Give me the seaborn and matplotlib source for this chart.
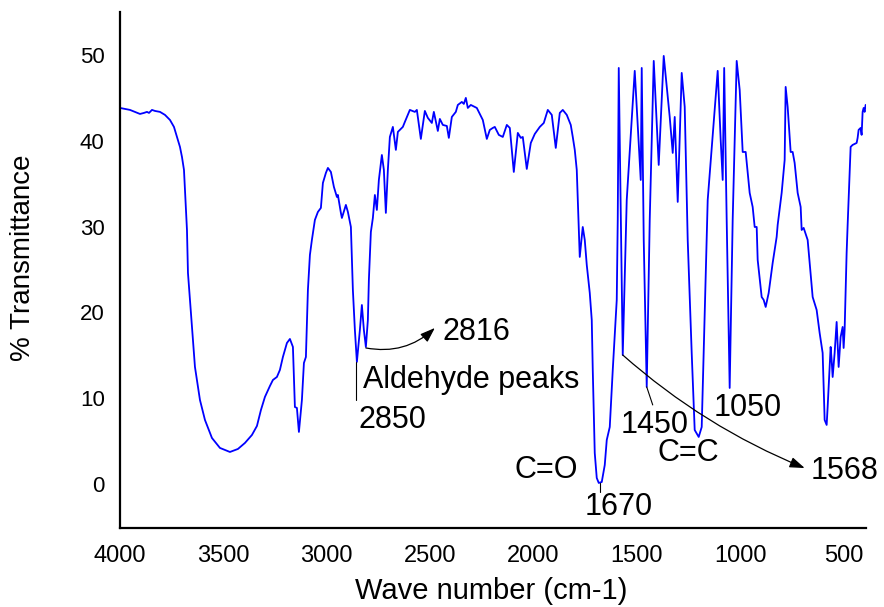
import matplotlib
matplotlib.use("Agg")
import matplotlib.pyplot as plt
import seaborn as sns
import pandas as pd

# ---- data ----
wavenumber = [
    4000.0, 3975.8, 3951.7, 3927.5, 3903.3, 3884.0, 3869.5, 3859.8, 3845.3, 3830.8,
    3806.6, 3782.5, 3758.3, 3739.0, 3724.5, 3710.0, 3700.3, 3690.6, 3685.8, 3676.1,
    3671.3, 3661.6, 3651.9, 3637.5, 3613.3, 3589.1, 3555.3, 3516.6, 3468.3, 3429.6,
    3395.8, 3361.9, 3337.7, 3318.4, 3299.1, 3274.9, 3260.4, 3241.1, 3226.6, 3212.1,
    3192.7, 3178.2, 3163.7, 3154.1, 3144.4, 3134.7, 3120.2, 3110.5, 3100.9, 3091.2,
    3081.5, 3071.9, 3057.4, 3042.9, 3028.4, 3018.7, 3004.2, 2994.5, 2980.0, 2965.5,
    2951.0, 2946.2, 2931.7, 2926.8, 2907.5, 2897.8, 2883.3, 2873.7, 2864.0, 2854.3,
    2839.8, 2830.2, 2820.5, 2810.8, 2801.2, 2796.3, 2786.7, 2777.0, 2767.3, 2757.7,
    2748.0, 2733.5, 2723.8, 2714.2, 2704.5, 2694.8, 2680.3, 2665.8, 2656.1, 2632.0,
    2622.3, 2598.1, 2574.0, 2564.3, 2545.0, 2525.6, 2511.1, 2491.8, 2482.1, 2462.8,
    2453.1, 2438.6, 2419.3, 2409.6, 2395.1, 2375.8, 2366.1, 2346.8, 2337.1, 2327.4,
    2317.8, 2303.3, 2274.3, 2245.3, 2225.9, 2211.4, 2196.9, 2187.3, 2167.9, 2148.6,
    2129.2, 2114.7, 2095.4, 2076.0, 2061.6, 2051.9, 2032.6, 2013.2, 1993.9, 1969.7,
    1950.4, 1931.0, 1911.7, 1892.4, 1873.0, 1858.5, 1839.2, 1819.9, 1810.2, 1800.5,
    1790.9, 1776.4, 1761.9, 1752.2, 1742.5, 1728.0, 1718.4, 1713.5, 1703.9, 1694.2,
    1684.5, 1670.0, 1655.5, 1645.8, 1631.3, 1616.8, 1597.5, 1592.7, 1587.8, 1568.5,
    1549.2, 1510.5, 1481.5, 1476.7, 1467.0, 1452.5, 1438.0, 1418.6, 1394.5, 1370.3,
    1341.3, 1326.8, 1317.1, 1302.6, 1283.3, 1268.8, 1254.3, 1235.0, 1220.5, 1201.1,
    1186.6, 1177.0, 1157.6, 1109.3, 1094.8, 1085.1, 1077.9, 1065.8, 1051.3, 1036.8,
    1017.4, 1002.9, 988.4, 973.9, 964.2, 954.6, 940.1, 930.4, 920.7, 915.9,
    896.6, 886.9, 877.2, 862.7, 843.4, 824.1, 819.2, 799.9, 785.4, 780.6,
    770.9, 756.4, 746.7, 737.1, 722.5, 708.0, 703.2, 693.5, 674.2, 650.0,
    630.7, 616.2, 601.7, 592.0, 582.3, 577.5, 572.7, 563.0, 558.2, 553.3,
    543.7, 534.0, 524.3, 514.7, 505.0, 500.2, 495.4, 485.7, 480.8, 466.3,
    456.7, 437.3, 432.5, 427.7, 418.0, 413.2, 408.3, 403.5, 398.7, 393.8,
]
transmittance = [
    43.82, 43.71, 43.59, 43.36, 43.12, 43.24, 43.36, 43.24, 43.59, 43.47,
    43.36, 43.01, 42.42, 41.61, 40.44, 39.28, 38.11, 36.60, 34.27, 29.60,
    24.59, 21.45, 18.30, 13.64, 9.79, 7.46, 5.36, 4.20, 3.73, 4.08,
    4.78, 5.71, 6.76, 8.62, 10.14, 11.42, 12.12, 12.47, 13.29, 14.80,
    16.43, 16.90, 15.97, 8.97, 8.86, 6.06, 9.79, 14.10, 14.80, 22.61,
    26.69, 28.44, 30.77, 31.70, 32.17, 35.08, 36.25, 36.83, 36.36, 34.62,
    33.45, 33.68, 31.59, 31.00, 32.52, 31.70, 29.95, 22.61, 17.95, 14.22,
    17.95, 20.86, 17.95, 15.97, 19.11, 23.78, 29.37, 31.00, 33.68, 31.93,
    35.43, 38.34, 36.60, 31.59, 36.60, 40.44, 41.61, 38.93, 41.03, 41.61,
    42.19, 43.59, 43.36, 43.59, 40.21, 43.47, 42.66, 42.07, 43.36, 41.14,
    42.54, 41.84, 41.72, 40.33, 42.77, 43.36, 44.17, 44.52, 44.29, 44.99,
    43.82, 44.17, 43.82, 42.42, 40.21, 41.26, 41.49, 41.61, 40.68, 40.44,
    41.84, 41.49, 36.36, 40.91, 40.33, 40.44, 36.71, 39.74, 40.79, 41.61,
    42.07, 43.59, 43.01, 39.16, 43.24, 43.59, 43.01, 41.84, 40.44, 38.93,
    36.60, 26.46, 29.95, 28.44, 25.52, 22.26, 19.11, 13.29, 3.61, 0.70,
    0.12, 0.23, 2.21, 5.13, 6.64, 13.29, 21.45, 30.77, 48.48, 15.03,
    33.10, 48.14, 35.43, 48.48, 28.44, 11.31, 30.77, 49.30, 37.18, 49.88,
    42.77, 38.58, 42.77, 32.87, 47.90, 43.94, 28.44, 15.27, 6.29, 5.48,
    6.64, 15.27, 33.10, 48.14, 40.09, 35.43, 48.48, 30.77, 11.19, 30.77,
    49.30, 45.92, 38.69, 38.69, 36.25, 33.92, 32.28, 29.95, 29.95, 26.11,
    21.79, 21.45, 20.63, 22.26, 25.76, 28.79, 30.19, 33.92, 37.76, 46.27,
    43.94, 38.69, 38.69, 37.41, 33.92, 32.28, 29.60, 29.84, 28.44, 21.79,
    20.28, 17.60, 15.27, 7.46, 6.88, 8.97, 11.31, 15.97, 14.45, 12.47,
    15.27, 18.88, 13.64, 17.13, 18.30, 15.85, 17.95, 26.92, 30.19, 39.28,
    39.51, 39.74, 40.33, 41.26, 41.49, 40.68, 43.36, 43.82, 43.36, 44.17,
]
x_ticks = [4000, 3500, 3000, 2500, 2000, 1500, 1000, 500]
y_ticks = [0, 10, 20, 30, 40, 50]

# annotation labels: text, wavenumber, transmittance, horizontal alignment
label_texts = ["2816", "Aldehyde peaks", "2850", "C=O", "1670", "1450", "C=C", "1050", "1568"]
label_x = [2438.6, 2825.3, 2844.7, 1940.7, 1587.8, 1413.8, 1249.5, 964.2, 495.4]
label_y = [17.72, 12.12, 7.46, 1.63, -2.68, 6.88, 3.61, 8.86, 1.52]
label_ha = ["left", "left", "left", "center", "center", "center", "center", "center", "center"]

sns.set_theme(style="white")
plt.rcParams['font.family'] = ['Liberation Sans', 'DejaVu Sans']

fig = plt.figure(figsize=(8.84, 6.07), dpi=100)
ax = fig.add_axes([120 / 884, 79 / 607, 746 / 884, 516 / 607])

df = pd.DataFrame({"wavenumber": wavenumber, "transmittance": transmittance})
sns.lineplot(data=df, x="wavenumber", y="transmittance", sort=False, estimator=None,
             color="#0000ff", linewidth=1.3, ax=ax)

ax.set_xlim(4000, 392)
ax.set_ylim(-5.13, 55)
ax.set_xticks(x_ticks)
ax.set_yticks(y_ticks)
ax.tick_params(axis="x", length=0, pad=12, labelsize=17, colors="black")
ax.tick_params(axis="y", length=0, pad=11, labelsize=16, colors="black")
sns.despine(ax=ax)
for s in ["left", "bottom"]:
    ax.spines[s].set_color("black")
    ax.spines[s].set_linewidth(1.6)

ax.set_xlabel("Wave number (cm-1)", fontsize=21, color="black")
ax.set_ylabel("% Transmittance", fontsize=20, color="black")
ax.xaxis.set_label_coords(0.497, -0.094)
ax.yaxis.set_label_coords(-0.112, 0.523)

for t, x, y, ha in zip(label_texts, label_x, label_y, label_ha):
    ax.text(x, y, t, ha=ha, va="center", fontsize=22, color="black")

# leader lines
ax.plot([2859.2, 2859.2], [14.22, 9.79], color="black", lw=0.8)
ax.plot([1679.7, 1679.7], [0.12, -0.93], color="black", lw=0.8)
ax.plot([1452.5, 1423.5], [11.31, 9.21], color="black", lw=0.8)

# curved arrows
ax.annotate("", xy=(2477.3, 18.18), xytext=(2810.8, 15.85),
            arrowprops=dict(arrowstyle="-|>,head_length=0.45,head_width=0.16",
                            connectionstyle="arc3,rad=0.25", color="black", lw=0.9,
                            shrinkA=0, shrinkB=0, mutation_scale=20))
ax.annotate("", xy=(688.7, 1.86), xytext=(1568.5, 15.03),
            arrowprops=dict(arrowstyle="-|>,head_length=0.45,head_width=0.16",
                            connectionstyle="arc3,rad=0.085", color="black", lw=0.9,
                            shrinkA=0, shrinkB=0, mutation_scale=20))

fig.savefig("out.png", dpi=100)
